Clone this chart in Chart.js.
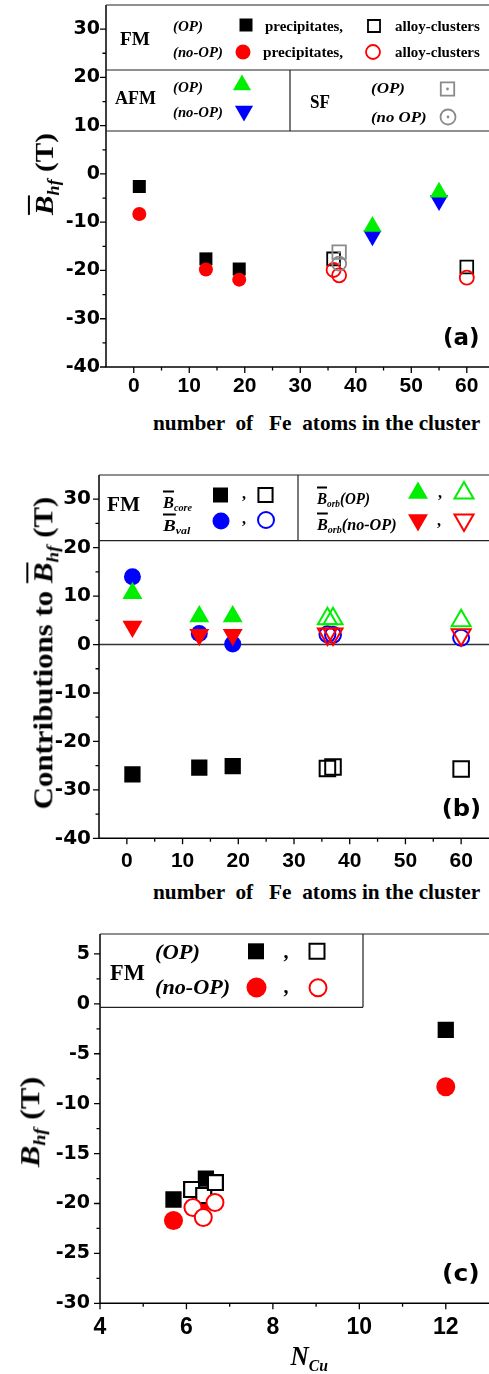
<!DOCTYPE html>
<html>
<head>
<meta charset="utf-8">
<title>Hyperfine field of Fe clusters</title>
<script src="https://cdn.jsdelivr.net/npm/chart.js@4.4.1/dist/chart.umd.min.js"></script>
<style>
  html, body { margin: 0; padding: 0; background: #fff; }
  body { width: 489px; height: 1374px; position: relative; overflow: hidden; }
  canvas { position: absolute; left: 0; }
  .txt { position: absolute; left: 0; top: 0; white-space: pre; line-height: 1; color: #000;
         font-family: "Liberation Serif", "Times New Roman", serif; font-weight: bold; transform-origin: 50% 50%; }
  .txt sub { font-size: 62%; vertical-align: -0.35em; line-height: 0; }
  .sans { font-family: "DejaVu Sans", sans-serif; }
  .ob { text-decoration: overline; text-decoration-thickness: 1.5px; }
</style>
</head>
<body>
<canvas id="chartA" width="489" height="400" style="top:0px"></canvas>
<canvas id="chartB" width="489" height="400" style="top:470px"></canvas>
<canvas id="chartC" width="489" height="420" style="top:930px"></canvas>
<script>
// ---- panel (a): mean B_hf vs number of Fe atoms
const fePrecX = [1, 13, 19];
const fmOpPrecY = [-2.6, -17.6, -19.7];
const fmNoOpPrecY = [-8.3, -19.8, -21.9];
const fmOpAlloyX = [36, 60];
const fmOpAlloyY = [-17.6, -19.3];
const fmNoOpAlloyX = [36, 37, 60];
const fmNoOpAlloyY = [-19.9, -21.0, -21.5];
const afmX = [43, 55];
const afmOpY = [-10.9, -3.8];
const afmNoOpY = [-12.8, -5.5];
const sfX = [37];
const sfOpY = [-16.2];
const sfNoOpY = [-18.6];
const feTicks = [0, 10, 20, 30, 40, 50, 60];
const bhfTicksA = [-40, -30, -20, -10, 0, 10, 20, 30];

// ---- panel (b): contributions to B_hf
const alloyX = [36, 37, 60];
const coreFillY = [-26.8, -25.4, -25.1];
const coreOpenY = [-25.6, -25.3, -25.7];
const valFillY = [14.0, 2.3, 0.1];
const valOpenY = [2.1, 2.0, 1.4];
const orbOpFillY = [10.6, 5.8, 5.8];
const orbOpOpenY = [5.3, 5.3, 4.9];
const orbNoOpFillY = [3.7, 2.0, 2.0];
const orbNoOpOpenY = [2.2, 2.2, 2.0];
const contribTicks = [-40, -30, -20, -10, 0, 10, 20, 30];

// ---- panel (c): B_hf vs N_Cu
const nCuPrecX = [5.7, 6.45, 12];
const opPrecY = [-19.6, -17.5, -2.6];
const noOpPrecY = [-21.7, -19.7, -8.3];
const nCuAlloyOpX = [6.12, 6.4, 6.67];
const opAlloyY = [-18.6, -19.2, -17.9];
const nCuAlloyNoOpX = [6.15, 6.39, 6.66];
const noOpAlloyY = [-20.4, -21.4, -19.9];
const nCuTicks = [4, 6, 8, 10, 12];
const bhfTicksC = [-30, -25, -20, -15, -10, -5, 0, 5];

const RED = '#ff0000', GREEN = '#00ee00', BLUE = '#0000ff', GREY = '#8a8a8a';

function pts(xs, ys) {
  return xs.map((x, i) => ({ x: x, y: ys[i] }));
}

function mk(xs, ys, o) {
  return {
    data: pts(xs, ys),
    showLine: false,
    pointStyle: o.style || 'circle',
    pointRadius: o.r,
    pointRotation: o.rot || 0,
    pointBackgroundColor: o.open ? (o.bg || 'rgba(0,0,0,0)') : o.c,
    pointBorderColor: o.c,
    pointBorderWidth: o.open ? (o.lw || 1.8) : 0
  };
}

function mids(list) {
  const out = [];
  for (let i = 0; i < list.length - 1; i++) out.push((list[i] + list[i + 1]) / 2);
  return out;
}

function drawSym(ctx, s) {
  ctx.save();
  ctx.fillStyle = s.open ? (s.bg || 'rgba(0,0,0,0)') : s.c;
  ctx.strokeStyle = s.c;
  ctx.lineWidth = s.lw || 1.8;
  Chart.helpers.drawPoint(ctx, {
    pointStyle: s.style, radius: s.r, rotation: s.rot || 0,
    borderWidth: s.open ? (s.lw || 1.8) : 0
  }, s.x, s.y);
  if (s.dot) {
    ctx.fillStyle = s.c;
    ctx.beginPath();
    ctx.arc(s.x, s.y, 1.4, 0, Math.PI * 2);
    ctx.fill();
  }
  ctx.restore();
}

// axes, tick marks, legend frame and legend symbols
function framePlugin(cfg) {
  return {
    id: 'frame',
    beforeDatasetsDraw(chart) {
      if (!cfg.zero) return;
      const a = chart.chartArea, y0 = chart.scales.y.getPixelForValue(0);
      const ctx = chart.ctx;
      ctx.save();
      ctx.strokeStyle = '#333';
      ctx.lineWidth = 1.5;
      ctx.beginPath();
      ctx.moveTo(a.left, y0);
      ctx.lineTo(a.right, y0);
      ctx.stroke();
      ctx.restore();
    },
    afterDraw(chart) {
      const ctx = chart.ctx, a = chart.chartArea;
      const xs = chart.scales.x, ys = chart.scales.y;
      ctx.save();
      ctx.strokeStyle = '#000';
      ctx.lineWidth = 1.5;
      ctx.beginPath();
      ctx.moveTo(a.left, a.top);
      ctx.lineTo(a.left, a.bottom);
      ctx.lineTo(a.right, a.bottom);
      ctx.stroke();

      ctx.lineWidth = 1.3;
      ctx.beginPath();
      cfg.xMajor.forEach(v => { const p = xs.getPixelForValue(v); ctx.moveTo(p, a.bottom); ctx.lineTo(p, a.bottom + 6); });
      mids(cfg.xMajor).forEach(v => { const p = xs.getPixelForValue(v); ctx.moveTo(p, a.bottom); ctx.lineTo(p, a.bottom + 3.5); });
      cfg.yMajor.forEach(v => { const p = ys.getPixelForValue(v); ctx.moveTo(a.left - 6, p); ctx.lineTo(a.left, p); });
      mids(cfg.yMajor).forEach(v => { const p = ys.getPixelForValue(v); ctx.moveTo(a.left - 3.5, p); ctx.lineTo(a.left, p); });
      ctx.stroke();

      ctx.lineWidth = 1.2;
      ctx.strokeStyle = '#222';
      ctx.beginPath();
      cfg.lines.forEach(l => { ctx.moveTo(l[0], l[1]); ctx.lineTo(l[2], l[3]); });
      ctx.stroke();
      ctx.restore();

      cfg.syms.forEach(s => drawSym(ctx, s));
    }
  };
}

function makeChart(id, cfg) {
  new Chart(document.getElementById(id), {
    type: 'scatter',
    data: { datasets: cfg.datasets },
    options: {
      responsive: false,
      animation: false,
      events: [],
      layout: { autoPadding: false, padding: { top: cfg.top, left: 0, right: 0, bottom: 0 } },
      plugins: { legend: { display: false }, tooltip: { enabled: false } },
      scales: {
        x: {
          type: 'linear', min: cfg.xmin, max: cfg.xmax,
          grid: { display: false, drawTicks: false }, border: { display: false },
          afterBuildTicks: s => { s.ticks = cfg.xMajor.map(v => ({ value: v })); },
          afterFit: s => { s.height = cfg.xh; s.paddingLeft = 0; s.paddingRight = 0; },
          ticks: { autoSkip: false, maxRotation: 0, padding: cfg.xpad, color: '#000', font: cfg.xfont, callback: v => String(v) }
        },
        y: {
          type: 'linear', min: cfg.ymin, max: cfg.ymax,
          grid: { display: false, drawTicks: false }, border: { display: false },
          afterBuildTicks: s => { s.ticks = cfg.yMajor.map(v => ({ value: v })); },
          afterFit: s => { s.width = cfg.yw; s.paddingTop = 0; s.paddingBottom = 0; },
          ticks: { autoSkip: false, padding: cfg.ypad, color: '#000', font: cfg.yfont, callback: v => String(v) }
        }
      }
    },
    plugins: [framePlugin(cfg)]
  });
}

// panel (a) -- first dataset is drawn on top
makeChart('chartA', {
  top: 5, xh: 33, yw: 106, xmin: -5, xmax: 64, ymin: -40, ymax: 35,
  xMajor: feTicks, yMajor: bhfTicksA, xpad: 7, ypad: 6,
  xfont: { family: 'Liberation Sans', weight: 'bold', size: 21 },
  yfont: { family: 'DejaVu Sans', weight: 'bold', size: 19 },
  datasets: [
    mk(sfX, sfNoOpY, { c: GREY, r: 1.4 }),
    mk(sfX, sfOpY, { c: GREY, r: 1.4 }),
    mk(sfX, sfNoOpY, { c: GREY, r: 7, open: true }),
    mk(sfX, sfOpY, { c: GREY, r: 9.5, style: 'rect', open: true }),
    mk(afmX, afmOpY, { c: GREEN, r: 10.5, style: 'triangle' }),
    mk(afmX, afmNoOpY, { c: BLUE, r: 10.5, style: 'triangle', rot: 180 }),
    mk(fmNoOpAlloyX, fmNoOpAlloyY, { c: RED, r: 7, open: true }),
    mk(fePrecX, fmNoOpPrecY, { c: RED, r: 7 }),
    mk(fmOpAlloyX, fmOpAlloyY, { c: '#000', r: 9, style: 'rect', open: true }),
    mk(fePrecX, fmOpPrecY, { c: '#000', r: 9.2, style: 'rect' })
  ],
  lines: [[106, 5, 489, 5], [106, 70, 489, 70], [106, 131, 489, 131], [290, 70, 290, 131]],
  syms: [
    { x: 246, y: 25, style: 'rect', r: 9.2, c: '#000' },
    { x: 374, y: 26, style: 'rect', r: 8.5, c: '#000', open: true },
    { x: 243, y: 52, style: 'circle', r: 7.5, c: RED },
    { x: 373, y: 52, style: 'circle', r: 7, c: RED, open: true },
    { x: 242, y: 85, style: 'triangle', r: 10.5, c: GREEN },
    { x: 244, y: 111, style: 'triangle', r: 10.5, rot: 180, c: BLUE },
    { x: 447.5, y: 89, style: 'rect', r: 9.5, c: GREY, open: true, dot: true },
    { x: 448, y: 117, style: 'circle', r: 7.5, c: GREY, open: true, dot: true }
  ]
});

// panel (b)
makeChart('chartB', {
  top: 5, xh: 31.7, yw: 99, xmin: -5, xmax: 65, ymin: -40, ymax: 35,
  xMajor: feTicks, yMajor: contribTicks, xpad: 10, ypad: 8, zero: true,
  xfont: { family: 'Liberation Sans', weight: 'bold', size: 21 },
  yfont: { family: 'DejaVu Sans', weight: 'bold', size: 20 },
  datasets: [
    mk(alloyX, orbOpOpenY, { c: GREEN, r: 11, style: 'triangle', open: true, lw: 2 }),
    mk(alloyX, orbNoOpOpenY, { c: RED, r: 11, style: 'triangle', rot: 180, open: true, lw: 2 }),
    mk(alloyX, valOpenY, { c: BLUE, r: 8, open: true, lw: 2 }),
    mk(fePrecX, orbOpFillY, { c: GREEN, r: 11.5, style: 'triangle' }),
    mk(fePrecX, orbNoOpFillY, { c: RED, r: 11.5, style: 'triangle', rot: 180 }),
    mk(fePrecX, valFillY, { c: BLUE, r: 8.5 }),
    mk(alloyX, coreOpenY, { c: '#000', r: 11, style: 'rect', open: true, lw: 2 }),
    mk(fePrecX, coreFillY, { c: '#000', r: 11.5, style: 'rect' })
  ],
  lines: [[99, 5, 489, 5], [99, 70.7, 489, 70.7], [298, 5, 298, 70.7]],
  syms: [
    { x: 220.5, y: 25, style: 'rect', r: 10.6, c: '#000' },
    { x: 265.5, y: 25, style: 'rect', r: 10, c: '#000', open: true, lw: 2 },
    { x: 221, y: 51, style: 'circle', r: 8.5, c: BLUE },
    { x: 266, y: 50, style: 'circle', r: 8, c: BLUE, open: true, lw: 2 },
    { x: 418, y: 23, style: 'triangle', r: 11.5, c: GREEN },
    { x: 464, y: 23, style: 'triangle', r: 11, c: GREEN, open: true, lw: 2 },
    { x: 418, y: 50, style: 'triangle', r: 11.5, rot: 180, c: RED },
    { x: 464, y: 50, style: 'triangle', r: 11, rot: 180, c: RED, open: true, lw: 2 }
  ]
});

// panel (c)
makeChart('chartC', {
  top: 4, xh: 46.7, yw: 100, xmin: 4, xmax: 13, ymin: -30, ymax: 7,
  xMajor: nCuTicks, yMajor: bhfTicksC, xpad: 11, ypad: 10,
  xfont: { family: 'Liberation Sans', weight: 'bold', size: 23 },
  yfont: { family: 'DejaVu Sans', weight: 'bold', size: 19 },
  datasets: [
    mk(nCuAlloyNoOpX, noOpAlloyY, { c: RED, r: 8.5, open: true, lw: 2, bg: '#fff' }),
    mk(nCuAlloyOpX, opAlloyY, { c: '#000', r: 10.6, style: 'rect', open: true, lw: 2.2, bg: '#fff' }),
    mk(nCuPrecX, noOpPrecY, { c: RED, r: 9.5 }),
    mk(nCuPrecX, opPrecY, { c: '#000', r: 11.5, style: 'rect' })
  ],
  lines: [[100, 4, 489, 4], [100, 77.3, 363, 77.3], [363, 4, 363, 77.3]],
  syms: [
    { x: 256, y: 21.3, style: 'rect', r: 11.3, c: '#000' },
    { x: 317, y: 21.3, style: 'rect', r: 10.6, c: '#000', open: true, lw: 2 },
    { x: 256.5, y: 57.5, style: 'circle', r: 10, c: RED },
    { x: 318, y: 57.8, style: 'circle', r: 8.5, c: RED, open: true, lw: 2 }
  ]
});

// text: html, centre x/y, target length along the text, font size, rotation
const texts = [
  // (a)
  { h: '<i class="ob">B</i><sub><i>hf</i></sub> (T)', cx: 45, cy: 174, w: 82, fs: 26, rot: -90 },
  { h: 'number  of   Fe  atoms in the cluster', cx: 316.5, cy: 423, w: 327, fs: 22 },
  { h: '(a)', cx: 461.5, cy: 337, w: 37, fs: 23, cls: 'sans' },
  { h: 'FM', cx: 135, cy: 39, w: 30, fs: 18 },
  { h: '<i>(OP)</i>', cx: 188, cy: 26, w: 30, fs: 15 },
  { h: '<i>(no-OP)</i>', cx: 198, cy: 52, w: 50, fs: 15 },
  { h: 'precipitates,', cx: 304, cy: 26, w: 78, fs: 15.5 },
  { h: 'alloy-clusters', cx: 437.5, cy: 26, w: 85, fs: 15.5 },
  { h: 'precipitates,', cx: 303, cy: 52, w: 80, fs: 15.5 },
  { h: 'alloy-clusters', cx: 437.5, cy: 52, w: 85, fs: 15.5 },
  { h: 'AFM', cx: 135.5, cy: 98, w: 41, fs: 18 },
  { h: '<i>(OP)</i>', cx: 188, cy: 87, w: 30, fs: 15 },
  { h: '<i>(no-OP)</i>', cx: 198, cy: 112, w: 50, fs: 15 },
  { h: 'SF', cx: 320, cy: 102, w: 20, fs: 18 },
  { h: '<i>(OP)</i>', cx: 388, cy: 88, w: 34, fs: 15 },
  { h: '<i>(no OP)</i>', cx: 399, cy: 117, w: 56, fs: 15 },
  // (b)
  { h: 'Contributions to <i class="ob">B</i><sub><i>hf</i></sub> (T)', cx: 44, cy: 653, w: 313, fs: 27, rot: -90 },
  { h: 'number  of   Fe  atoms in the cluster', cx: 316.5, cy: 892, w: 327, fs: 22 },
  { h: '(b)', cx: 461.7, cy: 808, w: 40, fs: 23, cls: 'sans' },
  { h: 'FM', cx: 123.5, cy: 504, w: 33, fs: 20 },
  { h: '<i class="ob">B</i><sub><i>core</i></sub>', cx: 177.5, cy: 502, w: 29, fs: 17 },
  { h: '<i class="ob">B</i><sub><i>val</i></sub>', cx: 176.5, cy: 525, w: 27, fs: 17 },
  { h: ',', cx: 244, cy: 494, w: 4, fs: 16 },
  { h: ',', cx: 244, cy: 519, w: 4, fs: 16 },
  { h: '<i class="ob">B</i><sub><i>orb</i></sub><i>(OP)</i>', cx: 343.5, cy: 498, w: 53, fs: 17 },
  { h: '<i class="ob">B</i><sub><i>orb</i></sub><i>(no-OP)</i>', cx: 357, cy: 524, w: 80, fs: 17 },
  { h: ',', cx: 440, cy: 493, w: 4, fs: 16 },
  { h: ',', cx: 439, cy: 521, w: 4, fs: 16 },
  // (c)
  { h: '<i>B</i><sub><i>hf</i></sub> (T)', cx: 30, cy: 1122, w: 90, fs: 28, rot: -90 },
  { h: '<i>N</i><sub><i>Cu</i></sub>', cx: 309, cy: 1356, w: 37, fs: 28 },
  { h: '(c)', cx: 461, cy: 1273, w: 38, fs: 23, cls: 'sans' },
  { h: 'FM', cx: 127.5, cy: 972, w: 35, fs: 23 },
  { h: '<i>(OP)</i>', cx: 177.5, cy: 952, w: 45, fs: 21 },
  { h: '<i>(no-OP)</i>', cx: 192.5, cy: 987, w: 75, fs: 21 },
  { h: ',', cx: 286, cy: 951, w: 5, fs: 20 },
  { h: ',', cx: 286, cy: 986, w: 5, fs: 20 }
];

texts.forEach(t => {
  const el = document.createElement('div');
  el.className = 'txt' + (t.cls ? ' ' + t.cls : '');
  el.style.fontSize = t.fs + 'px';
  el.innerHTML = t.h;
  document.body.appendChild(el);
  const w = el.offsetWidth, h = el.offsetHeight;
  const sx = t.w / w;
  el.style.transform = 'translate(' + (t.cx - w / 2) + 'px,' + (t.cy - h / 2) + 'px) rotate(' + (t.rot || 0) + 'deg) scale(' + sx + ',1)';
});
</script>
</body>
</html>
